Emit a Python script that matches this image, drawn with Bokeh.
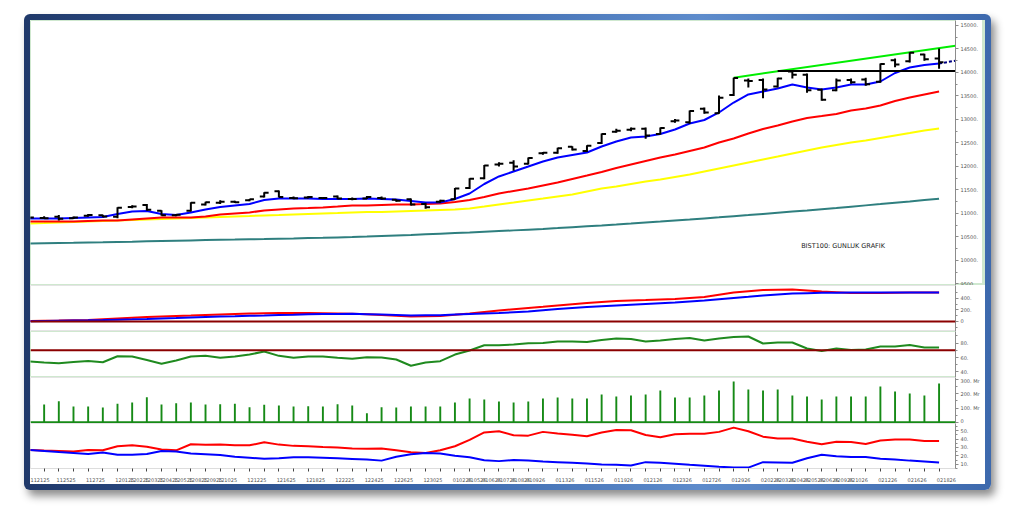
from bokeh.plotting import figure
from bokeh.layouts import column
from bokeh.models import (Range1d, LinearAxis, SingleIntervalTicker, FixedTicker,
                          PrintfTickFormatter, Span, Label)
from bokeh.embed import file_html
from bokeh.resources import INLINE

# ---- trading days (MMDDYY) -------------------------------------------------
dates = ["112125", "112425", "112525", "112625", "112725", "112825",
         "120125", "120225", "120325", "120425", "120525", "120825", "120925", "121025",
         "121125", "121225", "121525", "121625", "121725", "121825", "121925",
         "122225", "122325", "122425", "122525", "122625", "122925", "123025", "123125",
         "010226", "010526", "010626", "010726", "010826", "010926",
         "011226", "011326", "011426", "011526", "011626", "011926", "012026", "012126",
         "012226", "012326", "012626", "012726", "012826", "012926", "013026",
         "020226", "020326", "020426", "020526", "020626", "020926", "021026",
         "021126", "021226", "021326", "021626", "021726", "021826"]
label_idx = [0, 2, 4, 6, 7, 8, 9, 10, 11, 12, 13, 15, 17, 19, 21, 23, 25, 27,
             29, 30, 31, 32, 33, 34, 36, 38, 40, 42, 44, 46, 48,
             50, 51, 52, 53, 54, 55, 56, 58, 60, 62]

# ---- BIST100 daily OHLC ----------------------------------------------------
opens = [10900, 10905, 10930, 10900, 10950, 10960, 10930, 11140, 11180, 11060,
         10960, 11060, 11190, 11230, 11250, 11280, 11360, 11470, 11330, 11340,
         11330, 11360, 11310, 11320, 11330, 11290, 11300, 11200, 11250, 11300,
         11540, 11750, 12040, 12080, 12060, 12280, 12290, 12420, 12330, 12500,
         12740, 12780, 12800, 12690, 12960, 12940, 13230, 13130, 13520, 13830,
         13840, 13700, 14020, 13950, 13630, 13620, 13840, 13850, 13800, 14260,
         14240, 14380, 14300]
highs = [10930, 10940, 10965, 10935, 10990, 10975, 11130, 11175, 11200, 11070,
         10990, 11240, 11250, 11280, 11270, 11310, 11450, 11490, 11360, 11370,
         11345, 11380, 11340, 11370, 11360, 11300, 11320, 11230, 11290, 11540,
         11750, 12030, 12090, 12130, 12190, 12310, 12400, 12430, 12450, 12700,
         12800, 12830, 12830, 12830, 13010, 13190, 13255, 13510, 13890, 13870,
         13870, 13890, 14040, 13980, 13660, 13870, 13870, 13890, 14190, 14300,
         14430, 14400, 14510]
lows = [10870, 10880, 10850, 10880, 10930, 10920, 10900, 11110, 11060, 10950,
        10940, 11040, 11170, 11200, 11220, 11260, 11340, 11340, 11300, 11320,
        11310, 11300, 11280, 11310, 11290, 11250, 11170, 11100, 11230, 11290,
        11520, 11730, 12000, 11910, 12040, 12250, 12270, 12340, 12310, 12480,
        12720, 12750, 12590, 12680, 12930, 12910, 13120, 13120, 13500, 13680,
        13450, 13680, 13870, 13570, 13400, 13600, 13760, 13720, 13780, 14110,
        14210, 14250, 14080]
closes = [10915, 10900, 10890, 10915, 10965, 10935, 11120, 11150, 11080, 10960,
          10975, 11230, 11240, 11250, 11240, 11300, 11440, 11350, 11325, 11350,
          11330, 11320, 11310, 11350, 11320, 11270, 11190, 11130, 11270, 11530,
          11740, 12020, 12060, 12000, 12180, 12290, 12390, 12360, 12440, 12690,
          12760, 12800, 12660, 12820, 12980, 13180, 13150, 13460, 13880, 13820,
          13640, 13870, 13950, 13620, 13420, 13830, 13790, 13750, 14180, 14170,
          14420, 14280, 14220]

# ---- moving averages -------------------------------------------------------
ma_fast = [10893, 10893, 10893, 10904, 10914, 10925, 10989, 11042, 11053, 10989,
           10967, 11021, 11085, 11138, 11170, 11201, 11287, 11318, 11318, 11318,
           11308, 11308, 11308, 11318, 11308, 11297, 11265, 11233, 11233, 11308,
           11425, 11627, 11787, 11893, 11999, 12106, 12191, 12244, 12297, 12425,
           12531, 12617, 12638, 12691, 12787, 12914, 12989, 13149, 13361, 13532,
           13596, 13659, 13744, 13681, 13638, 13681, 13744, 13744, 13808, 13989,
           14106, 14159, 14191]
ma_mid = [10829, 10829, 10829, 10829, 10840, 10850, 10850, 10872, 10893, 10914,
          10914, 10914, 10936, 10978, 11000, 11021, 11063, 11085, 11106, 11116,
          11127, 11148, 11170, 11170, 11180, 11191, 11191, 11201, 11212, 11244,
          11287, 11350, 11425, 11478, 11531, 11595, 11659, 11734, 11808, 11883,
          11968, 12042, 12117, 12191, 12255, 12330, 12404, 12510, 12595, 12702,
          12798, 12872, 12957, 13032, 13074, 13117, 13191, 13234, 13298, 13393,
          13468, 13532, 13596]
ma_slow = [10787, 10797, 10808, 10818, 10829, 10840, 10850, 10861, 10872, 10882,
           10893, 10904, 10914, 10925, 10936, 10946, 10957, 10967, 10978, 10989,
           11000, 11010, 11021, 11031, 11031, 11042, 11053, 11063, 11074, 11085,
           11106, 11148, 11191, 11233, 11276, 11318, 11361, 11404, 11467, 11531,
           11574, 11627, 11680, 11723, 11776, 11829, 11893, 11957, 12021, 12085,
           12149, 12212, 12276, 12340, 12404, 12457, 12510, 12553, 12606, 12659,
           12712, 12766, 12808]
ma_long = [10361, 10366, 10371, 10376, 10382, 10387, 10394, 10400, 10407, 10414,
           10421, 10427, 10433, 10439, 10444, 10450, 10456, 10463, 10469, 10476,
           10482, 10490, 10497, 10508, 10520, 10531, 10543, 10556, 10569, 10582,
           10595, 10610, 10625, 10640, 10655, 10670, 10688, 10707, 10726, 10745,
           10765, 10786, 10808, 10829, 10851, 10872, 10895, 10918, 10942, 10965,
           10989, 11014, 11040, 11065, 11091, 11116, 11144, 11172, 11199, 11227,
           11255, 11284, 11312]

# trend channel top, resistance level and projection of the fast average
trend_x, trend_y = [48, 63.12], [13890, 14570]
resist_x, resist_y = [51, 63.12], [14030, 14030]
proj_x, proj_y = [62, 63.12], [14191, 14250]

# ---- indicators --------------------------------------------------------------
macd_a = [9, 13, 17, 22, 26, 39, 52, 65, 78, 87, 96, 104, 113, 122, 130, 137, 144,
          146, 148, 146, 144, 139, 134, 124, 113, 100, 87, 91, 96, 117, 139, 165,
          191, 213, 235, 256, 278, 300, 322, 340, 357, 366, 374, 383, 391, 409,
          426, 465, 504, 526, 548, 552, 556, 539, 522, 509, 496, 496, 496, 500,
          504, 504, 504]
macd_b = [5, 9, 13, 17, 21, 26, 32, 37, 43, 52, 60, 69, 78, 85, 91, 98, 104, 111,
          117, 124, 130, 132, 134, 128, 122, 113, 104, 107, 110, 120, 130, 139,
          148, 161, 174, 196, 217, 235, 252, 265, 278, 291, 304, 317, 330, 348,
          365, 387, 409, 430, 452, 470, 487, 493, 499, 501, 504, 504, 504, 504,
          504, 504, 504]
rsi = [54.5, 53.1, 52.1, 53.8, 55.2, 53.5, 61.8, 61.4, 56.6, 51.3, 55.9, 61.4,
       62.3, 59.6, 61.4, 64.1, 68.3, 62.3, 59.6, 61.4, 61.4, 59.6, 58.2, 60.4,
       60.0, 57.2, 48.6, 53.1, 54.9, 64.1, 69.7, 77.0, 77.0, 77.9, 79.7, 80.0,
       82.1, 82.1, 81.4, 84.1, 86.2, 85.5, 82.1, 83.4, 85.5, 86.9, 83.4, 86.2,
       88.3, 89.0, 79.3, 80.7, 80.7, 72.4, 69.0, 72.4, 70.3, 71.0, 75.2, 75.2,
       77.2, 73.8, 73.8]
rsi_level = 70
volume = [120, 125, 149, 111, 111, 104, 130, 139, 177, 125, 134, 139, 125, 127,
          130, 106, 123, 118, 111, 113, 111, 127, 118, 64, 106, 104, 111, 111,
          111, 139, 168, 161, 146, 139, 146, 168, 175, 168, 168, 196, 182, 189,
          196, 224, 175, 175, 189, 224, 288, 231, 224, 231, 189, 182, 161, 182,
          182, 182, 253, 217, 203, 189, 274]
di_plus = [26.9, 26.3, 25.8, 25.1, 26.9, 26.6, 31.5, 32.6, 30.8, 27.7, 26.6, 33.8,
           33.1, 33.4, 32.6, 32.6, 36.1, 33.4, 31.9, 31.5, 30.6, 30.0, 28.9, 28.5,
           28.9, 26.6, 24.3, 23.5, 26.6, 31.5, 39.1, 47.9, 49.4, 44.6, 44.1, 48.6,
           46.8, 45.2, 43.4, 47.9, 50.9, 50.6, 44.9, 42.2, 45.7, 46.3, 46.3, 48.6,
           53.7, 49.4, 42.9, 40.6, 40.6, 36.9, 33.8, 36.9, 36.5, 34.2, 38.3, 39.5,
           39.5, 37.7, 37.7]
di_minus = [26.9, 25.8, 24.6, 23.5, 22.3, 23.9, 21.2, 21.2, 22.3, 25.8, 25.1, 22.8,
            22.0, 20.9, 18.9, 17.8, 16.6, 17.1, 18.2, 18.2, 17.8, 17.1, 16.3, 15.5,
            14.3, 18.9, 22.0, 23.5, 22.8, 20.1, 18.2, 14.8, 13.7, 15.1, 14.3, 13.2,
            12.5, 11.7, 10.9, 9.8, 9.4, 8.6, 12.5, 11.7, 10.6, 9.4, 8.3, 7.1, 6.0,
            6.0, 12.5, 12.1, 11.7, 17.1, 21.2, 19.4, 18.6, 18.6, 16.6, 15.5, 14.3,
            13.2, 12.1]

bars = list(range(len(dates)))
FONT = "DejaVu Sans"
x_range = Range1d(0.07, 63.12)


def panel(height, y_range, interval, fmt, outline, bottom=0, zero_plain=False,
          ticks=None):
    p = figure(width=955, height=height, x_range=x_range, y_range=y_range,
               output_backend="svg", toolbar_location=None, tools="",
               x_axis_location=None, y_axis_location="right",
               min_border_left=0, min_border_right=30, min_border_top=0,
               min_border_bottom=bottom)
    p.grid.visible = False
    p.outline_line_color = outline
    p.outline_line_width = 1
    p.border_fill_color = "white"
    ax = p.yaxis[0]
    if ticks is None:
        ax.ticker = SingleIntervalTicker(interval=interval, num_minor_ticks=2)
    else:
        ax.ticker = FixedTicker(ticks=ticks,
                                minor_ticks=[t + interval / 2 for t in ticks])
    ax.formatter = PrintfTickFormatter(format=fmt)
    if zero_plain:
        ax.major_label_overrides = {0: "0"}
    ax.axis_line_color = "#8c8c8c"
    ax.major_tick_line_color = "#8c8c8c"
    ax.minor_tick_line_color = "#8c8c8c"
    ax.major_tick_out = 3
    ax.major_tick_in = 0
    ax.minor_tick_out = 2
    ax.minor_tick_in = 0
    ax.major_label_standoff = 2
    ax.major_label_text_font = FONT
    ax.major_label_text_font_size = "5px"
    ax.major_label_text_color = "#555555"
    return p


# ---- price panel -------------------------------------------------------------
p1 = panel(265, Range1d(9467, 15106), 500, "%d.", "#cfe8cf")
p1.border_fill_color = None
p1.background_fill_color = "white"
p1.styles = {"box-shadow": "inset -3px -2px 0 #cfe8cf"}
p1.line(bars, ma_long, line_color="#2f7f7f", line_width=2)
p1.line(bars, ma_slow, line_color="#ffff00", line_width=2)
p1.line(bars, ma_mid, line_color="#ff0000", line_width=2)
p1.line(bars, ma_fast, line_color="#0000ff", line_width=2)
p1.line(proj_x, proj_y, line_color="#000080", line_width=2, line_dash="3 2")
p1.line(trend_x, trend_y, line_color="#00ee00", line_width=2)
p1.line(resist_x, resist_y, line_color="#000000", line_width=2)
p1.segment(x0=bars, y0=lows, x1=bars, y1=highs, line_color="black", line_width=2)
p1.segment(x0=[i - 0.3 for i in bars], y0=opens, x1=bars, y1=opens,
           line_color="black", line_width=2)
p1.segment(x0=bars, y0=closes, x1=[i + 0.3 for i in bars], y1=closes,
           line_color="black", line_width=2)
p1.add_layout(Label(x=52.6, y=10300, text="BIST100: GUNLUK GRAFIK",
                    text_font=FONT, text_font_size="6.5px", text_color="#222222",
                    text_baseline="middle"))

# ---- MACD ----------------------------------------------------------------------
p2 = panel(46, Range1d(-174, 626), 200, "%d.", "#e4e4e4", zero_plain=True,
           ticks=[-200, 0, 200, 400])
p2.add_layout(Span(location=0, dimension="width", line_color="#8b0000", line_width=2))
p2.line(bars, macd_a, line_color="#ff0000", line_width=2)
p2.line(bars, macd_b, line_color="#0000ff", line_width=2)

# ---- RSI -----------------------------------------------------------------------
p3 = panel(46, Range1d(32.4, 95.9), 20, "%d.", "#cfe8cf")
p3.add_layout(Span(location=rsi_level, dimension="width", line_color="#8b0000",
                   line_width=2))
p3.line(bars, rsi, line_color="#1f8a1f", line_width=2)

# ---- volume --------------------------------------------------------------------
p4 = panel(46, Range1d(-9, 316), 100, "%d. Mr", "#e4e4e4", zero_plain=True)
p4.vbar(x=bars, top=volume, bottom=0, width=0.13, fill_color="#168a16",
        line_color=None)
p4.add_layout(Span(location=0, dimension="width", line_color="#168a16", line_width=2))

# ---- DMI -----------------------------------------------------------------------
p5 = panel(61, Range1d(4.9, 58.6), 10, "%d.", "#e4e4e4", bottom=14)
p5.line(bars, di_plus, line_color="#ff0000", line_width=2)
p5.line(bars, di_minus, line_color="#0000ff", line_width=2)

xa = LinearAxis(ticker=FixedTicker(ticks=[i + 0.5 for i in label_idx], minor_ticks=bars))
xa.major_label_overrides = {i + 0.5: dates[i] for i in label_idx}
xa.major_tick_line_color = None
xa.minor_tick_line_color = "#444444"
xa.minor_tick_out = 3
xa.minor_tick_in = 0
xa.axis_line_color = "#dddddd"
xa.major_label_standoff = 3
xa.major_label_text_font = FONT
xa.major_label_text_font_size = "5px"
xa.major_label_text_color = "#555555"
p5.add_layout(xa, "below")

inner = column(p1, p2, p3, p4, p5, spacing=0,
               styles={"background-color": "white"})
frame = column(inner, margin=(14, 0, 0, 24),
               styles={"padding": "6px",
                       "background": "linear-gradient(90deg, #20396a 0%, #3a66aa 40%, "
                                     "#5d8bcb 70%, #3d69ad 100%)",
                       "border-radius": "6px",
                       "box-shadow": "4px 6px 9px rgba(0,0,0,0.45)"})

open("out.html", "w").write(file_html(frame, INLINE, title="BIST100"))
